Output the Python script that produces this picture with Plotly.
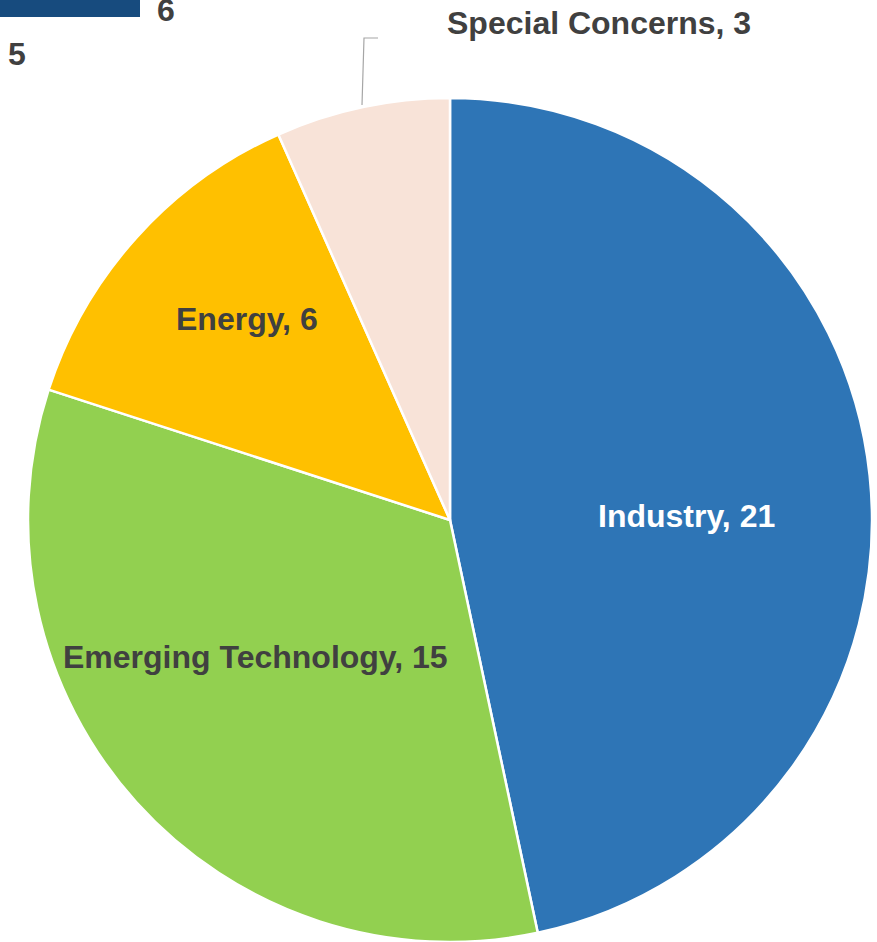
import plotly.graph_objects as go

labels = ["Industry", "Emerging Technology", "Energy", "Special Concerns"]
values = [21, 15, 6, 3]
colors = ["#2E75B6", "#92D050", "#FFC000", "#F8E3D8"]
label_colors = ["white", "#404040", "#404040", "#404040"]
# label anchor positions in pixels (text placement only)
label_px = [(686, 516), (255, 657), (247, 319), (599, 23)]
frag_labels = ["6", "5"]

W, H = 877, 942
cx, cy, r = 450, 520, 422
FONT = "Liberation Sans, Arial"
FS = 32

fig = go.Figure()
fig.add_trace(go.Pie(
    labels=labels, values=values, sort=False, direction="clockwise", rotation=0,
    marker=dict(colors=colors, line=dict(color="white", width=2.5)),
    textinfo="none", hoverinfo="label+value", showlegend=False,
    domain=dict(x=[(cx - r) / W, (cx + r) / W], y=[(H - cy - r) / H, (H - cy + r) / H]),
))

anns = []
for lab, v, col, (px, py) in zip(labels, values, label_colors, label_px):
    anns.append(dict(x=px / W, y=1 - py / H, xref="paper", yref="paper",
                     xanchor="center", yanchor="middle",
                     text=f"<b>{lab}, {v}</b>", showarrow=False,
                     font=dict(family=FONT, size=FS, color=col)))
anns.append(dict(x=166 / W, y=1 - 10 / H, xref="paper", yref="paper", text=f"<b>{frag_labels[0]}</b>",
                 xanchor="center", yanchor="middle",
                 showarrow=False, font=dict(family=FONT, size=FS, color="#404040")))
anns.append(dict(x=17 / W, y=1 - 54 / H, xref="paper", yref="paper", text=f"<b>{frag_labels[1]}</b>",
                 xanchor="center", yanchor="middle",
                 showarrow=False, font=dict(family=FONT, size=FS, color="#404040")))

shapes = [
    dict(type="rect", xref="paper", yref="paper", x0=0, x1=140 / W, y0=1 - 17 / H, y1=1.01,
         fillcolor="#174B7E", line=dict(width=0), layer="above"),
    dict(type="path", xref="paper", yref="paper",
         path=f"M {362/W},{1-105/H} L {364/W},{1-38/H} L {378/W},{1-38/H}",
         line=dict(color="#A6A6A6", width=1.2)),
]

fig.update_layout(width=W, height=H, margin=dict(l=0, r=0, t=0, b=0),
                  paper_bgcolor="white", plot_bgcolor="white",
                  annotations=anns, shapes=shapes)
fig.write_html("out.html", config={"displayModeBar": False},
               post_script="document.body.style.margin='0px';document.body.style.overflow='hidden';")
